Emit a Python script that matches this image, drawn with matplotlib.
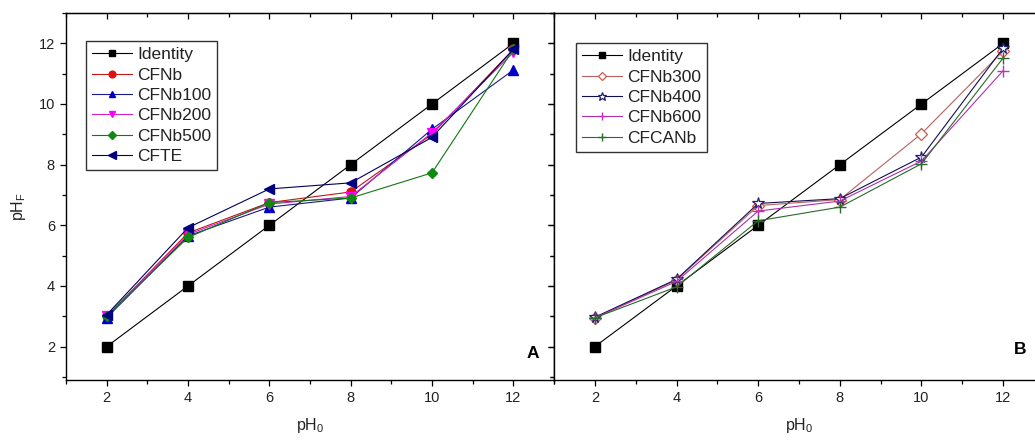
import matplotlib
matplotlib.use("Agg")
import matplotlib.pyplot as plt
from matplotlib.ticker import MultipleLocator, NullFormatter

plt.rcParams['font.family'] = ['Liberation Sans', 'DejaVu Sans']
plt.rcParams['mathtext.fontset'] = 'custom'
plt.rcParams['mathtext.rm'] = 'Liberation Sans'

ph0 = [2, 4, 6, 8, 10, 12]

# Panel A
identity = [2, 4, 6, 8, 10, 12]
cfnb = [3.0, 5.75, 6.75, 7.1, 9.0, 11.8]
cfnb100 = [2.95, 5.65, 6.6, 6.9, 9.17, 11.12]
cfnb200 = [3.0, 5.7, 6.7, 6.95, 9.05, 11.7]
cfnb500 = [3.0, 5.6, 6.75, 6.9, 7.73, 11.8]
cfte = [3.05, 5.92, 7.2, 7.4, 8.9, 11.8]

# Panel B
cfnb300 = [2.95, 4.2, 6.65, 6.85, 9.02, 11.75]
cfnb400 = [2.97, 4.22, 6.72, 6.88, 8.25, 11.84]
cfnb600 = [2.95, 4.15, 6.47, 6.8, 8.12, 11.1]
cfcanb = [2.95, 3.97, 6.15, 6.6, 8.03, 11.52]

W, H = 1035, 441
fig = plt.figure(figsize=(W / 100, H / 100), dpi=100)

def px_axes(x0, x1, y0, y1):
    return fig.add_axes([x0 / W, (H - y1) / H, (x1 - x0) / W, (y1 - y0) / H])

axA = px_axes(66, 554, 13, 380)
axB = px_axes(554, 1044, 13, 380)

lw = 0.8
tc = '#222222'

def set_locs(axis):
    axis.set_major_locator(MultipleLocator(2))
    axis.set_minor_locator(MultipleLocator(1))

def style(ax, left_labels=True):
    ax.set_xlim(1, 13)
    ax.set_ylim(0.9, 13)
    set_locs(ax.xaxis)
    set_locs(ax.yaxis)
    for s in ax.spines.values():
        s.set_linewidth(1.0)
        s.set_color('black')
    ax.tick_params(which='both', direction='out', labelsize=10.5, labelcolor=tc, width=0.9)
    ax.tick_params(which='major', length=4.5)
    ax.tick_params(which='minor', length=3)
    if not left_labels:
        ax.tick_params(axis='y', labelleft=False)
    ax.set_xlabel(r'pH$_\mathregular{0}$', fontsize=11.5, color=tc, labelpad=8)
    top = ax.secondary_xaxis('top')
    set_locs(top.xaxis)
    top.xaxis.set_major_formatter(NullFormatter())
    top.tick_params(which='both', direction='in', width=0.9)
    top.tick_params(which='major', length=4.5)
    top.tick_params(which='minor', length=3)
    right = ax.secondary_yaxis('right')
    set_locs(right.yaxis)
    right.yaxis.set_major_formatter(NullFormatter())
    right.tick_params(which='both', direction='in', width=0.9)
    right.tick_params(which='major', length=4.5)
    right.tick_params(which='minor', length=3)

style(axA)
style(axB, left_labels=False)

fig.text(18 / W, 1 - 207 / H, r'pH$_\mathregular{F}$', rotation=90, fontsize=11.5,
         color=tc, ha='center', va='center')

ms = 6.5
axA.plot(ph0, identity, color='black', lw=lw, marker='s', ms=ms, mfc='black', mec='black', label='Identity')
axA.plot(ph0, cfnb, color='#c01818', lw=lw, marker='o', ms=ms, mfc='#e01010', mec='#e01010', label='CFNb')
axA.plot(ph0, cfnb100, color='#1a1a8a', lw=lw, marker='^', ms=ms, mfc='#0000cc', mec='#0000cc', label='CFNb100')
axA.plot(ph0, cfnb200, color='#cc22cc', lw=lw, marker='v', ms=ms, mfc='#ff00ff', mec='#ff00ff', label='CFNb200')
axA.plot(ph0, cfnb500, color='#117711', lw=lw, marker='D', ms=ms - 1, mfc='#118811', mec='#118811', label='CFNb500')
axA.plot(ph0, cfte, color='#000060', lw=lw, marker='<', ms=ms + 0.5, mfc='#000080', mec='#000080', label='CFTE')

axB.plot(ph0, identity, color='black', lw=lw, marker='s', ms=ms, mfc='black', mec='black', label='Identity')
axB.plot(ph0, cfnb300, color='#b86060', lw=lw, marker='D', ms=ms - 0.5, mfc='white', mec='#d05a4a', mew=0.9, label='CFNb300')
axB.plot(ph0, cfnb400, color='#101050', lw=lw, marker='*', ms=ms + 2, mfc='white', mec='#202070', mew=0.9, label='CFNb400')
axB.plot(ph0, cfnb600, color='#b030b0', lw=lw, marker='+', ms=ms + 1.5, mec='#c030c0', mew=1.0, label='CFNb600')
axB.plot(ph0, cfcanb, color='#2a6a2a', lw=lw, marker='+', ms=ms + 1.5, mec='#2a6a2a', mew=1.0, label='CFCANb')

legkw = dict(fontsize=12.5, frameon=True, fancybox=False, edgecolor='black',
             handlelength=2.3, handletextpad=0.3, borderpad=0.35, labelspacing=0.3,
             markerscale=0.75, borderaxespad=0)
legA = axA.legend(loc='upper left', bbox_to_anchor=((86 - 66) / 488, 1 - (41 - 13) / 367), **legkw)
legB = axB.legend(loc='upper left', bbox_to_anchor=((576 - 554) / 490, 1 - (43 - 13) / 367), **legkw)
for leg in (legA, legB):
    leg.get_frame().set_linewidth(1.0)
    for t in leg.get_texts():
        t.set_color(tc)

fig.text(533 / W, 1 - 354 / H, 'A', fontsize=12.5, fontweight='bold', ha='center', va='center')
fig.text(1020 / W, 1 - 350 / H, 'B', fontsize=12.5, fontweight='bold', ha='center', va='center')

fig.savefig('out.png', dpi=100)
